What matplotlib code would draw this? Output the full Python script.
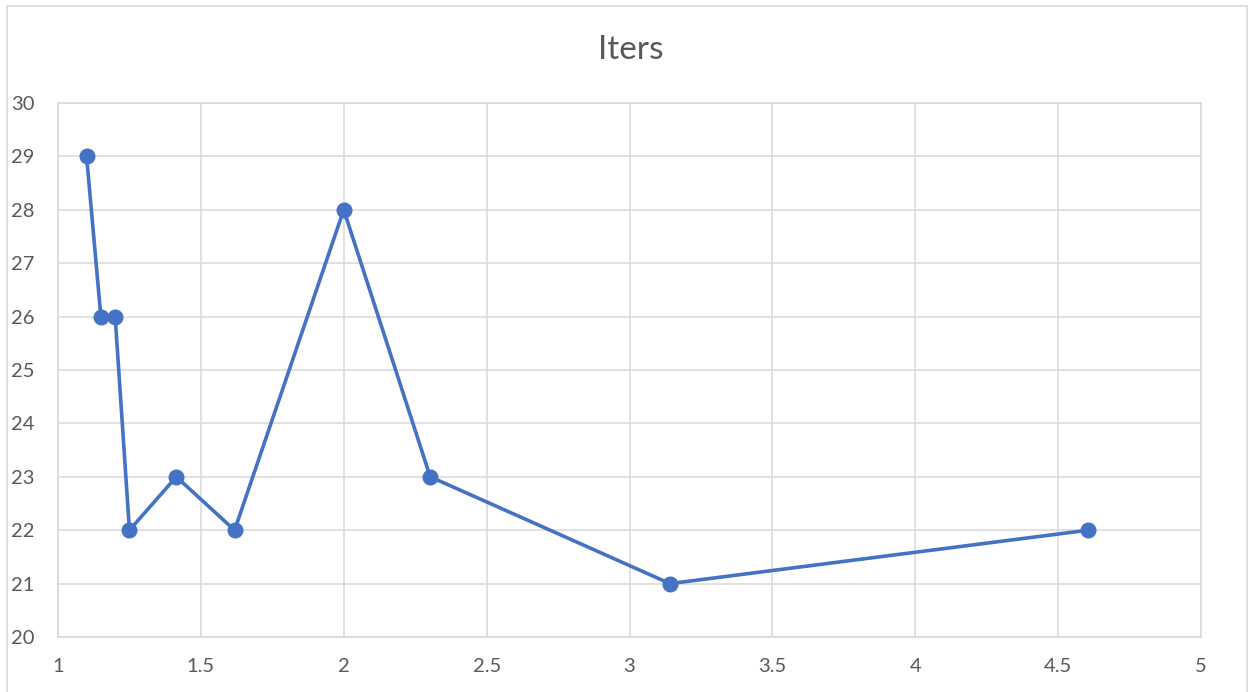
import matplotlib.pyplot as plt
from matplotlib.patches import Rectangle

# iteration counts against parameter value
x_vals = [1.1, 1.15, 1.2, 1.25, 1.414, 1.618, 2.0, 2.3026, 3.1416, 4.605]
iters = [29, 26, 26, 22, 23, 22, 28, 23, 21, 22]

x_ticks = [1, 1.5, 2, 2.5, 3, 3.5, 4, 4.5, 5]
y_ticks = list(range(20, 31))

BLUE = "#4472C4"
GRID = "#d9d9d9"
TEXT = "#595959"

plt.rcParams['font.family'] = ['Lato', 'DejaVu Sans']

fig = plt.figure(figsize=(12.52, 6.92), dpi=100)
W, H = 1252, 692
ax = fig.add_axes([58 / W, (H - 637) / H, (1201 - 58) / W, (637 - 103) / H])

# outer chart frame
fig.patches.append(Rectangle((7 / W, -0.05), (1247 - 7) / W, (H - 6) / H + 0.05,
                             transform=fig.transFigure, fill=False,
                             edgecolor=GRID, linewidth=1.2))

ax.plot(x_vals, iters, color=BLUE, linewidth=2.6, marker='o',
        markersize=10.5, zorder=3, clip_on=False)

ax.set_xlim(1, 5)
ax.set_ylim(20, 30)
ax.set_xticks(x_ticks)
ax.set_xticklabels([f"{t:g}" for t in x_ticks])
ax.set_yticks(y_ticks)
ax.grid(True, color=GRID, linewidth=1.1)
for s in ax.spines.values():
    s.set_color(GRID)
    s.set_linewidth(1.1)
ax.tick_params(length=0, labelsize=14.5, labelcolor=TEXT)
ax.tick_params(axis='y', pad=17)
ax.tick_params(axis='x', pad=15)

fig.text(631 / W, 1 - 50 / H, "Iters", ha='center', va='center',
         fontsize=24, color=TEXT)

fig.savefig("out.png", dpi=100)
